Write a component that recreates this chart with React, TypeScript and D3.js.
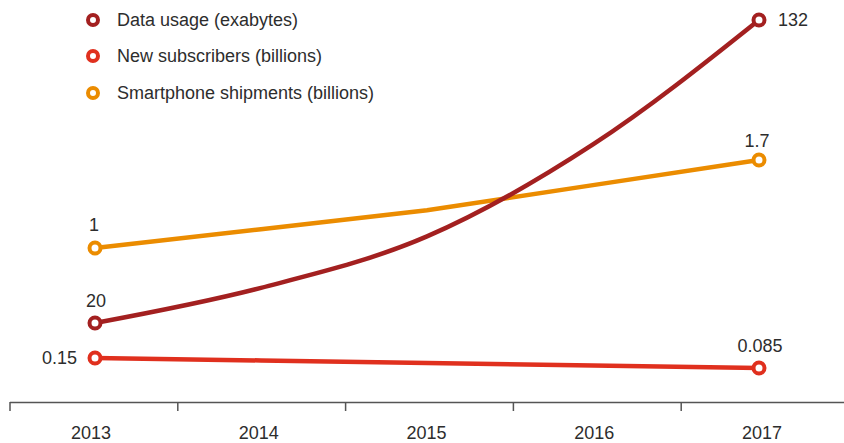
import React from "react";
import * as d3 from "d3";

const years = [2013, 2014, 2015, 2016, 2017];
const dataUsage = [20, 33, 52, 86, 132];
const newSubscribers = [0.15, 0.134, 0.118, 0.101, 0.085];
const smartphoneShipments = [1, 1.15, 1.3, 1.5, 1.7];
const seriesNames = ["Data usage (exabytes)", "New subscribers (billions)", "Smartphone shipments (billions)"];
const endLabels = { usage: ["20", "132"], subs: ["0.15", "0.085"], phones: ["1", "1.7"] };

const W = 844;
const H = 443;
const FONT = "'Liberation Sans', Arial, Helvetica, sans-serif";
const TEXT = "#2d2d2d";
const C_USAGE = "#a32020";
const C_SUBS = "#e0301e";
const C_PHONE = "#eb8c00";

export default function App() {
  const xPt = d3.scaleLinear().domain([2013, 2017]).range([95, 759]);
  const xBand = d3.scaleBand<number>().domain(years).range([10, 849]).padding(0);

  const yUsage = d3.scaleLinear().domain([20, 132]).range([323, 20]);
  const ySubs = d3.scaleLinear().domain([0.15, 0.085]).range([358, 368]);
  const yPhone = d3.scaleLinear().domain([1, 1.7]).range([248, 160]);

  const mk = (vals: number[], y: d3.ScaleLinear<number, number>, curve: d3.CurveFactory) =>
    d3
      .line<number>()
      .x((_, i) => xPt(years[i]))
      .y((v) => y(v))
      .curve(curve)(vals) as string;

  const series = [
    { vals: newSubscribers, y: ySubs, color: C_SUBS, curve: d3.curveLinear },
    { vals: smartphoneShipments, y: yPhone, color: C_PHONE, curve: d3.curveLinear },
    { vals: dataUsage, y: yUsage, color: C_USAGE, curve: d3.curveMonotoneX },
  ];

  const legendColors = [C_USAGE, C_SUBS, C_PHONE];
  const legendY = [20, 56, 93];

  const ticks = [...years.map((yr) => xBand(yr) as number), 10 + 5 * xBand.bandwidth()];

  const x0 = xPt(2013);
  const x1 = xPt(2017);

  return (
    <svg
      width={W}
      height={H}
      style={{ position: "absolute", left: 0, top: 0, display: "block", background: "#fff" }}
      fontFamily={FONT}
    >
      {/* legend */}
      {seriesNames.map((n, i) => (
        <g key={n}>
          <circle cx={93} cy={legendY[i]} r={5} fill="#fff" stroke={legendColors[i]} strokeWidth={4} />
          <text x={117} y={legendY[i] + 6} fontSize={18} fill={TEXT}>
            {n}
          </text>
        </g>
      ))}

      {/* axis */}
      <line x1={10} x2={W} y1={402.5} y2={402.5} stroke="#555" strokeWidth={1.5} />
      {ticks.map((t, i) => (
        <line key={i} x1={t} x2={t} y1={402} y2={411} stroke="#555" strokeWidth={1.5} />
      ))}
      {years.map((yr) => (
        <text
          key={yr}
          x={(xBand(yr) as number) + xBand.bandwidth() / 2 - 3}
          y={439}
          textAnchor="middle"
          fontSize={18}
          fill={TEXT}
        >
          {yr}
        </text>
      ))}

      {/* lines */}
      {series.map((s, i) => (
        <path key={i} d={mk(s.vals, s.y, s.curve)} fill="none" stroke={s.color} strokeWidth={4.5} />
      ))}
      {series.map((s, i) => (
        <g key={"p" + i}>
          <circle cx={x0} cy={s.y(s.vals[0])} r={5.5} fill="#fff" stroke={s.color} strokeWidth={4} />
          <circle cx={x1} cy={s.y(s.vals[s.vals.length - 1])} r={5.5} fill="#fff" stroke={s.color} strokeWidth={4} />
        </g>
      ))}

      {/* value labels */}
      <text x={x0 + 1} y={yUsage(dataUsage[0]) - 16} textAnchor="middle" fontSize={18} fill={TEXT}>
        {endLabels.usage[0]}
      </text>
      <text x={x1 + 19} y={yUsage(dataUsage[4]) + 6} fontSize={18} fill={TEXT}>
        {endLabels.usage[1]}
      </text>
      <text x={x0 - 18} y={ySubs(newSubscribers[0]) + 6} textAnchor="end" fontSize={18} fill={TEXT}>
        {endLabels.subs[0]}
      </text>
      <text x={x1 + 1} y={ySubs(newSubscribers[4]) - 16} textAnchor="middle" fontSize={18} fill={TEXT}>
        {endLabels.subs[1]}
      </text>
      <text x={x0 - 1} y={yPhone(smartphoneShipments[0]) - 17} textAnchor="middle" fontSize={18} fill={TEXT}>
        {endLabels.phones[0]}
      </text>
      <text x={x1 - 2} y={yPhone(smartphoneShipments[4]) - 13} textAnchor="middle" fontSize={18} fill={TEXT}>
        {endLabels.phones[1]}
      </text>
    </svg>
  );
}
